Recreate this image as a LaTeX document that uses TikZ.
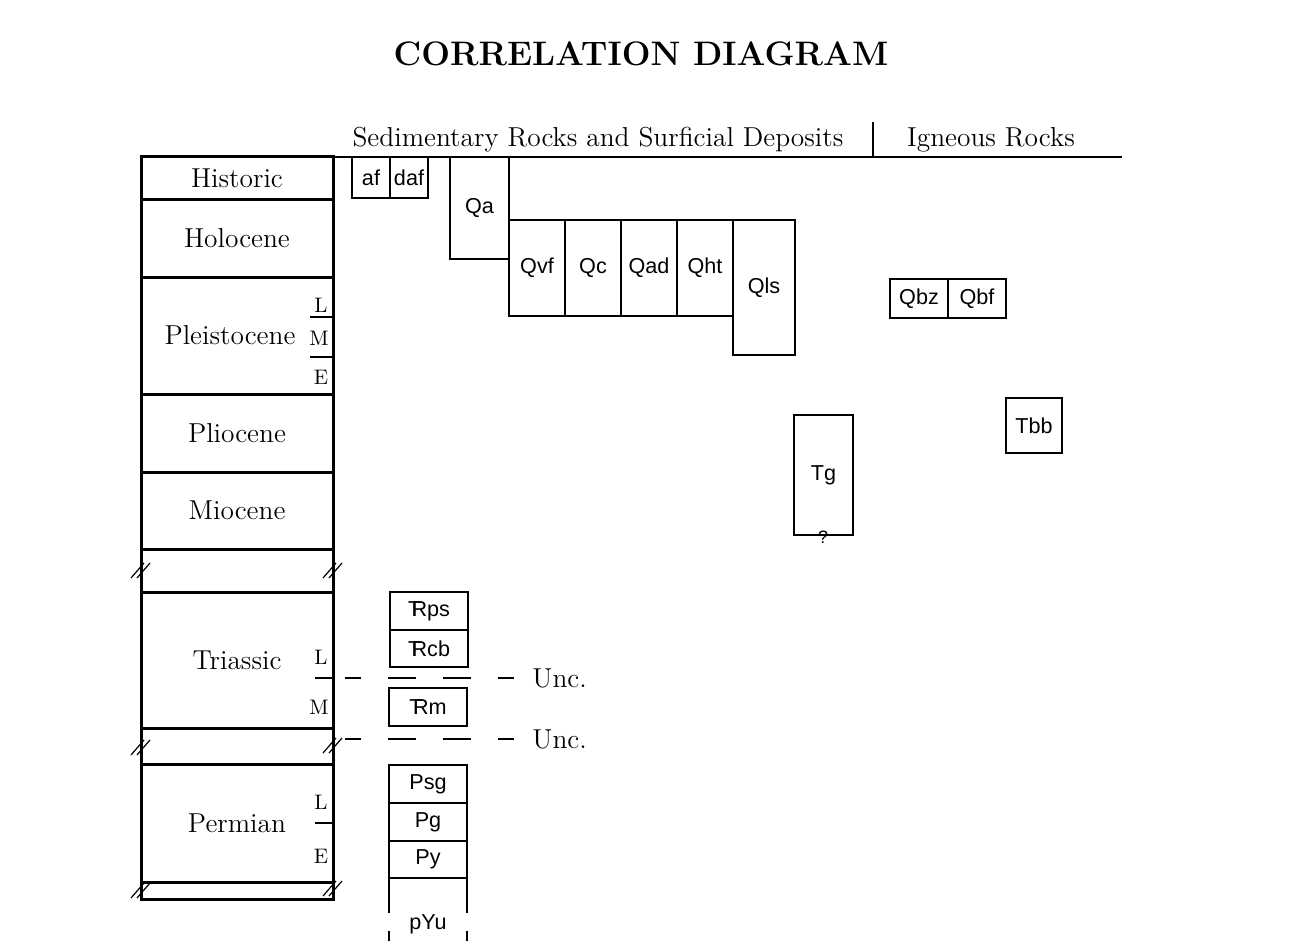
\documentclass[tikz,border=0pt]{standalone}
\usepackage{fontspec}
\newfontfamily\lsans{Liberation Sans}
\newcommand\trsym{\rlap{T}\kern1.8pt R}
\newcommand\rbox[7]{\node[#1,minimum width={(#5-#3)*0.5pt},minimum height={(#6-#4)*0.5pt}] (#2) at (#3,#4) {#7};}
\newcommand\brkmark[2]{\draw[brkline] (#1-10,#2+8) -- (#1+3,#2-7) (#1-4,#2+8) -- (#1+9,#2-7);}
\tikzset{
  period/.style={draw, line width=1.5pt, inner sep=0pt, outer sep=0pt, anchor=north west, font=\fontsize{13.7}{16}\selectfont},
  ubox/.style={draw, line width=0.6pt, inner sep=0pt, outer sep=0pt, anchor=north west, font=\lsans\fontsize{10.8}{12}\selectfont},
  serif/.style={inner sep=0pt, font=\fontsize{13.7}{16}\selectfont},
  sub/.style={inner sep=0pt, font=\fontsize{10.5}{12}\selectfont},
  sans/.style={inner sep=0pt, font=\lsans\fontsize{10.8}{12}\selectfont},
  tickline/.style={line width=1.4pt},
  thin/.style={line width=0.6pt},
  brkline/.style={line width=0.6pt},
  uncline/.style={line width=0.6pt, dash pattern=on 14pt off 13.5pt, dash phase=6pt},
}
\begin{document}
\begin{tikzpicture}[x=0.5pt,y=-0.5pt]
\useasboundingbox (0,0) rectangle (1316,941);
% title
\node[inner sep=0pt, font=\bfseries\fontsize{17}{20}\selectfont] (title) at (641,54) {CORRELATION DIAGRAM};
% header
\node[serif, anchor=base] (sed) at (598,147) {Sedimentary Rocks and Surficial Deposits};
\node[serif, anchor=base] (ign) at (991,147) {Igneous Rocks};
\coordinate (sepT) at (873,122);
\coordinate (sepB) at (873,157);
\draw[thin] (sepT) -- (sepB);
\coordinate (hl) at (333,157);
\coordinate (hr) at (1122,157);
\draw[thin] (hl) -- (hr);
% time column
\rbox{period}{hist}{141}{157}{333}{200}{Historic}
\rbox{period}{holo}{141}{200}{333}{277}{Holocene}
\rbox{period}{pleist}{141}{277}{333}{394}{\hspace*{-7pt}Pleistocene}
\rbox{period}{plio}{141}{394}{333}{472}{Pliocene}
\rbox{period}{mio}{141}{472}{333}{549}{Miocene}
\rbox{period}{gapA}{141}{549}{333}{592}{}
\rbox{period}{trias}{141}{592}{333}{728}{Triassic}
\rbox{period}{gapB}{141}{728}{333}{764}{}
\rbox{period}{perm}{141}{764}{333}{882}{Permian}
\rbox{period}{gapC}{141}{882}{333}{899}{}
% subdivisions
\draw[tickline] (310,317) -- (333,317);
\draw[tickline] (310,357) -- (333,357);
\node[sub] (pL) at (321,305) {L};
\node[sub] (pM) at (319,338) {M};
\node[sub] (pE) at (321,377) {E};
\draw[tickline] (315,678) -- (333,678);
\node[sub] (tL) at (321,657) {L};
\node[sub] (tM) at (319,707) {M};
\draw[tickline] (315,823) -- (333,823);
\node[sub] (mL) at (321,802) {L};
\node[sub] (mE) at (321,856) {E};
% break marks
\brkmark{141}{570}
\brkmark{333}{570}
\brkmark{141}{747}
\brkmark{333}{745}
\brkmark{141}{890}
\brkmark{333}{888}
% unconformities
\coordinate (u1a) at (345,678);
\coordinate (u1b) at (514,678);
\draw[uncline] (u1a) -- (u1b);
\node[serif, anchor=west] (unc1) at (532,678) {Unc.};
\coordinate (u2a) at (345,739);
\coordinate (u2b) at (514,739);
\draw[uncline] (u2a) -- (u2b);
\node[serif, anchor=west] (unc2) at (532,739) {Unc.};
% sedimentary units
\rbox{ubox}{af}{352}{157}{390}{198}{af}
\rbox{ubox}{daf}{390}{157}{428}{198}{daf}
\rbox{ubox}{Qa}{450}{157}{509}{259}{Qa}
\rbox{ubox}{Qvf}{509}{220}{565}{316}{Qvf}
\rbox{ubox}{Qc}{565}{220}{621}{316}{Qc}
\rbox{ubox}{Qad}{621}{220}{677}{316}{Qad}
\rbox{ubox}{Qht}{677}{220}{733}{316}{Qht}
\rbox{ubox}{Qls}{733}{220}{795}{355}{Qls}
\rbox{ubox}{Trps}{390}{592}{468}{630}{\trsym ps}
\rbox{ubox}{Trcb}{390}{630}{468}{667}{\trsym cb}
\rbox{ubox}{Trm}{389}{688}{467}{726}{\trsym m}
\rbox{ubox}{Psg}{389}{765}{467}{803}{Psg}
\rbox{ubox}{Pg}{389}{803}{467}{841}{Pg}
\rbox{ubox}{Py}{389}{841}{467}{878}{Py}
\node[sans] (pYu) at (428,924) {pYu};
\draw[thin] (Py.south west) -- ++(0,35) (Py.south west) ++(0,53) -- ++(0,12);
\draw[thin] (Py.south east) -- ++(0,35) (Py.south east) ++(0,53) -- ++(0,12);
% igneous units
\rbox{ubox}{Qbz}{890}{279}{948}{318}{Qbz}
\rbox{ubox}{Qbf}{948}{279}{1006}{318}{Qbf}
\rbox{ubox}{Tbb}{1006}{398}{1062}{453}{Tbb}
\rbox{ubox}{Tg}{794}{415}{853}{535}{Tg}
\node[inner sep=0pt, font=\lsans\fontsize{9}{10}\selectfont] (q) at (823,537) {?};
\end{tikzpicture}
\end{document}
